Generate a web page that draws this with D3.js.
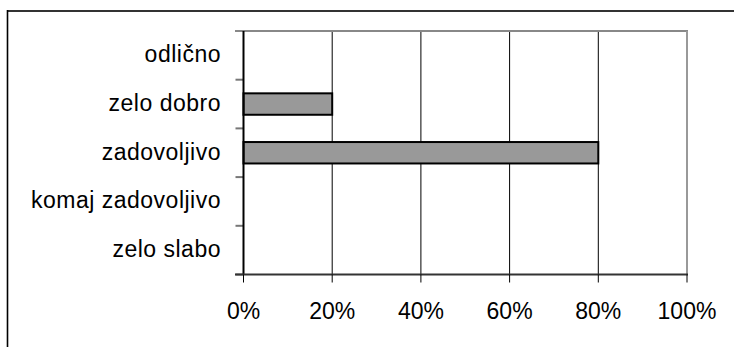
<!DOCTYPE html>
<html>
<head>
<meta charset="utf-8">
<script src="https://cdn.jsdelivr.net/npm/d3@7"></script>
<style>
  html, body { margin: 0; padding: 0; background: #fff; }
  svg { display: block; }
  text { font-family: "Liberation Sans", Arial, sans-serif; fill: #000; }
</style>
</head>
<body>
<svg id="chart" width="734" height="347"></svg>
<script>
// Rating categories, top to bottom, and the share of answers for each
const categories = ["odlično", "zelo dobro", "zadovoljivo", "komaj zadovoljivo", "zelo slabo"];
const shares = [0, 0.2, 0.8, 0, 0];
const xTicks = [0, 0.2, 0.4, 0.6, 0.8, 1.0];

const svg = d3.select("#chart");
const W = 734, H = 347;
const plot = { left: 243.5, right: 687, top: 31, bottom: 274.5 };

const x = d3.scaleLinear().domain([0, 1]).range([plot.left, plot.right]);
const y = d3.scaleBand().domain(categories)
  .range([plot.top, plot.bottom])
  .paddingInner(0.56).paddingOuter(0.28);

// Outer frame (top and left edges, running off the page)
svg.append("line").attr("x1", 7).attr("x2", W + 5).attr("y1", 11).attr("y2", 11)
  .attr("stroke", "#333").attr("stroke-width", 2);
svg.append("line").attr("x1", 7.5).attr("x2", 7.5).attr("y1", 10).attr("y2", H + 5)
  .attr("stroke", "#000").attr("stroke-width", 1.6);

// Vertical gridlines
svg.append("g").selectAll("line")
  .data(xTicks.filter(d => d > 0 && d < 1))
  .join("line")
  .attr("x1", d => x(d)).attr("x2", d => x(d))
  .attr("y1", plot.top).attr("y2", plot.bottom)
  .attr("stroke", "#000").attr("stroke-width", 1);

// Plot border: top and right in grey
svg.append("line").attr("x1", 235).attr("x2", plot.right + 1).attr("y1", plot.top).attr("y2", plot.top)
  .attr("stroke", "#888").attr("stroke-width", 2);
svg.append("line").attr("x1", plot.right).attr("x2", plot.right).attr("y1", plot.top).attr("y2", plot.bottom)
  .attr("stroke", "#999").attr("stroke-width", 2);

// Bars
svg.append("g").selectAll("rect")
  .data(categories.map((c, i) => ({ c, v: shares[i] })).filter(d => d.v > 0))
  .join("rect")
  .attr("x", x(0))
  .attr("y", d => y(d.c))
  .attr("width", d => x(d.v) - x(0))
  .attr("height", y.bandwidth())
  .attr("fill", "#999")
  .attr("stroke", "#000")
  .attr("stroke-width", 2);

// Category axis
const yAxis = svg.append("g").attr("transform", `translate(${plot.left},0)`);
const boundaries = d3.range(categories.length + 1).map(i => plot.top + i * y.step());
yAxis.selectAll("line.tick").data(boundaries.slice(1)).join("line")
  .attr("class", "tick")
  .attr("x1", -8).attr("x2", 0).attr("y1", d => d).attr("y2", d => d)
  .attr("stroke", "#777").attr("stroke-width", 2);
yAxis.append("line").attr("x1", 0).attr("x2", 0).attr("y1", plot.top).attr("y2", plot.bottom)
  .attr("stroke", "#000").attr("stroke-width", 2);
yAxis.selectAll("text").data(categories).join("text")
  .attr("x", 221 - plot.left)
  .attr("y", d => y(d) + y.bandwidth() / 2)
  .attr("dy", "0.3em")
  .attr("text-anchor", "end")
  .attr("font-size", 23)
  .attr("letter-spacing", 0.5)
  .text(d => d);

// Value axis
const xAxis = svg.append("g").attr("transform", `translate(0,${plot.bottom})`);
xAxis.append("line").attr("x1", 235).attr("x2", plot.right + 1).attr("y1", 0).attr("y2", 0)
  .attr("stroke", "#333").attr("stroke-width", 2);
xAxis.selectAll("line.tick").data(xTicks).join("line")
  .attr("class", "tick")
  .attr("x1", d => x(d)).attr("x2", d => x(d)).attr("y1", 0).attr("y2", 8)
  .attr("stroke", "#000").attr("stroke-width", 1);
xAxis.selectAll("text").data(xTicks).join("text")
  .attr("x", d => x(d))
  .attr("y", 44)
  .attr("text-anchor", "middle")
  .attr("font-size", 23)
  .text(d => d3.format(".0%")(d));
</script>
</body>
</html>
